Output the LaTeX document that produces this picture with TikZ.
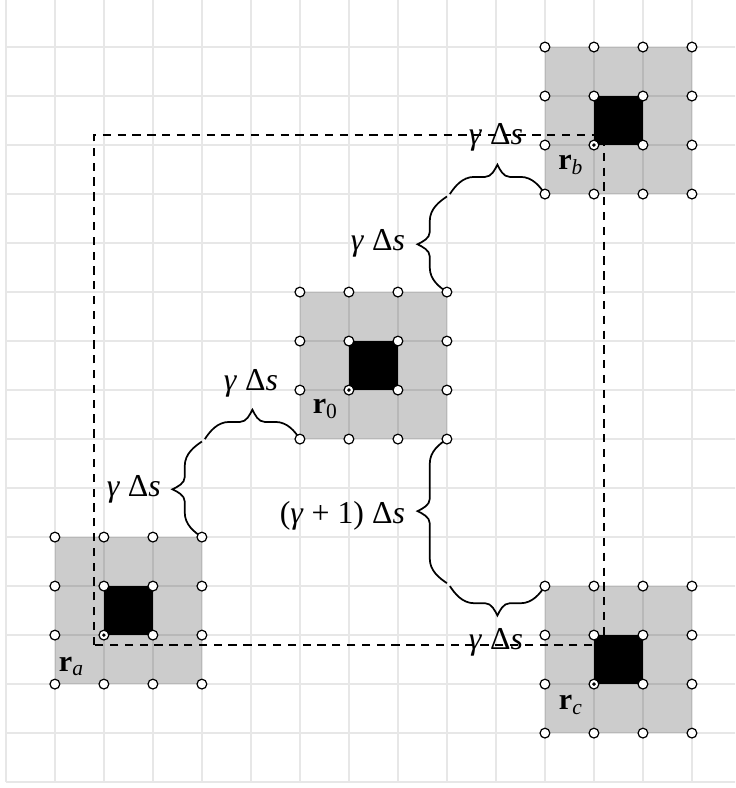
\documentclass[tikz,border=0pt]{standalone}
\usepackage{fontspec}
\setmainfont{Liberation Serif}
\usetikzlibrary{calc,decorations.pathreplacing}
\pgfdeclarelayer{fg}
\pgfsetlayers{main,fg}
\pgfdeclaredecoration{curlybrace}{brace}{%
  \state{brace}[width=+\pgfdecoratedremainingdistance,next state=final]{%
    \pgfpathmoveto{\pgfpointorigin}%
    \pgfpathcurveto{\pgfqpoint{0.1cm}{0.15cm}}{\pgfqpoint{0.25cm}{0.35cm}}{\pgfqpoint{0.5cm}{0.35cm}}%
    {%
      \pgftransformxshift{+0.5\pgfdecoratedremainingdistance}%
      \pgfpathlineto{\pgfqpoint{-0.25cm}{0.35cm}}%
      \pgfpathcurveto{\pgfqpoint{-0.12cm}{0.35cm}}{\pgfqpoint{-0.05cm}{0.5cm}}{\pgfqpoint{0cm}{0.6cm}}%
      \pgfpathcurveto{\pgfqpoint{0.05cm}{0.5cm}}{\pgfqpoint{0.12cm}{0.35cm}}{\pgfqpoint{0.25cm}{0.35cm}}%
    }%
    {%
      \pgftransformxshift{+\pgfdecoratedremainingdistance}%
      \pgfpathlineto{\pgfqpoint{-0.5cm}{0.35cm}}%
      \pgfpathcurveto{\pgfqpoint{-0.25cm}{0.35cm}}{\pgfqpoint{-0.1cm}{0.15cm}}{\pgfpointorigin}%
    }%
  }%
  \state{final}{}%
}
\definecolor{gridgray}{RGB}{231,231,231}
\newcommand\gds{\textit{γ} Δ\textit{s}}
\newcommand\rsub[1]{\textbf{r}\raisebox{-0.35ex}{\fontsize{12.5}{12.5}\selectfont#1}}
\begin{document}
\begin{tikzpicture}[
  x=1cm,y=1cm,
  gridline/.style={draw=gridgray, line width=1.1pt},
  block/.style={fill=black, fill opacity=0.2},
  core/.style={fill=black},
  circ/.style={circle, draw=black, fill=white, line width=0.7pt, inner sep=0pt, minimum size=0.2cm},
  dotc/.style={circ, path picture={\fill[black] (path picture bounding box.center) circle (0.04cm);}},
  framebox/.style={draw=black, line width=1pt, dash pattern=on 4.8pt off 3.8pt},
  bracepath/.style={draw=black, line width=1pt, decorate, decoration={curlybrace}},
  lbl/.style={font=\fontsize{18.5}{22}\selectfont, inner sep=0pt},
  rlbl/.style={font=\fontsize{17.5}{21}\selectfont, inner sep=0pt}
]
\useasboundingbox (-0.12,-0.12) rectangle (14.88,15.96);
\clip (-0.12,-0.12) rectangle (14.88,15.96);
% grid
\foreach \x in {0,...,15} \draw[gridline] (\x,0) -- (\x,16.2);
\foreach \y in {0,...,16} \draw[gridline] (0,\y) -- (15.2,\y);
% gray blocks
\foreach \n/\x/\y in {a/1/2, o/6/7, b/11/12, c/11/1}
  \fill[block] (\x,\y) rectangle ++(3,3);
% dashed frame
\draw[framebox] (1.8,2.8) rectangle (12.2,13.2);
% black cores
\foreach \n/\x/\y in {a/1/2, o/6/7, b/11/12, c/11/1}
  \fill[core] (\x+1,\y+1) rectangle ++(1,1);
% circles
\begin{pgfonlayer}{fg}
\foreach \n/\x/\y in {a/1/2, o/6/7, b/11/12, c/11/1}{
  \foreach \i in {0,...,3}{
    \foreach \j in {0,...,3}{
      \pgfmathtruncatemacro\k{\i*10+\j}
      \ifnum\k=11
        \node[dotc] (\n-\i-\j) at (\x+\i,\y+\j) {};
      \else
        \node[circ] (\n-\i-\j) at (\x+\i,\y+\j) {};
      \fi
    }
  }
}
% labels
\node[rlbl] (ra) at (1.33,2.36) {\rsub{\textit{a}}};
\node[rlbl] (r0) at (6.51,7.62) {\rsub{0}};
\node[rlbl] (rb) at (11.52,12.59) {\rsub{\textit{b}}};
\node[rlbl] (rc) at (11.52,1.58) {\rsub{\textit{c}}};
\node[lbl, anchor=east] (l1v) at (3.17,5.98) {\gds};
\node[lbl] (l1h) at (5.0,8.14) {\gds};
\node[lbl, anchor=east] (l2v) at (8.15,11.0) {\gds};
\node[lbl] (l2h) at (10.0,13.16) {\gds};
\node[lbl, anchor=east] (l3v) at (8.15,5.44) {(\textit{γ} + 1) Δ\textit{s}};
\node[lbl] (l3h) at (10.0,2.86) {\gds};
\end{pgfonlayer}
% joints
\coordinate (j1) at (4,7);
\coordinate (j2) at (9,12);
\coordinate (j3) at (9,4);
% braces
\draw[bracepath] (a-3-3.center) -- ($(j1)+(0,-0.05)$);
\draw[bracepath] ($(j1)+(0.06,0)$) -- (o-0-0.center);
\draw[bracepath] (o-3-3.center) -- ($(j2)+(0,-0.05)$);
\draw[bracepath] ($(j2)+(0.06,0)$) -- (b-0-0.center);
\draw[bracepath] ($(j3)+(0,0.06)$) -- (o-3-0.center);
\draw[bracepath] (c-0-3.center) -- ($(j3)+(0.06,0)$);
\end{tikzpicture}
\end{document}
